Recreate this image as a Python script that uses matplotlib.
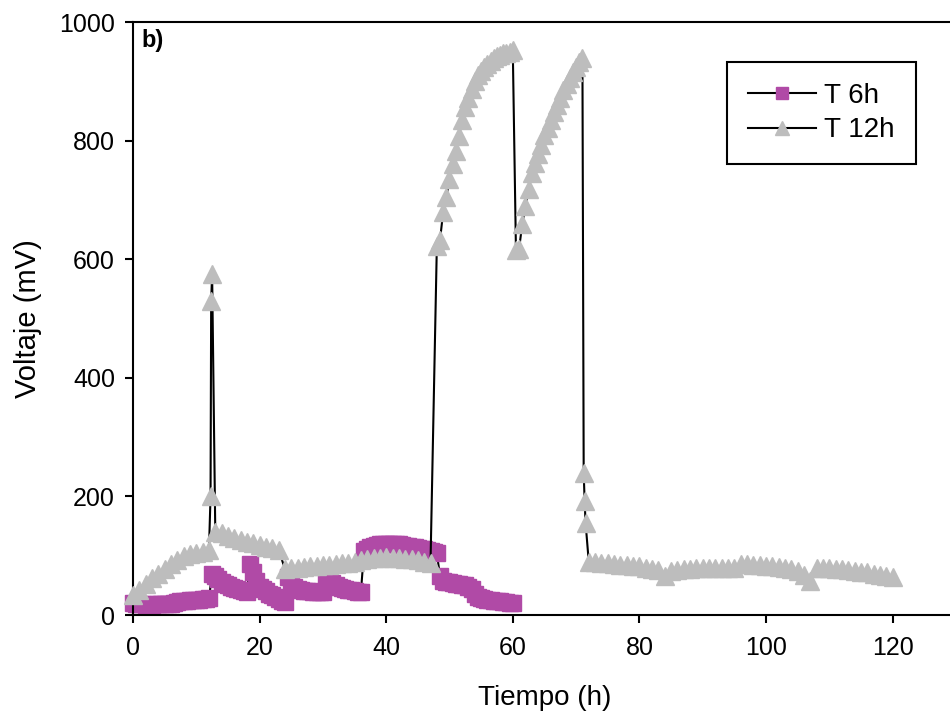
import numpy as np
import matplotlib
matplotlib.use("Agg")
import matplotlib.pyplot as plt

plt.rcParams['font.family'] = ['Liberation Sans', 'DejaVu Sans']

# T 6h: sampled every 30 min, 0-60 h
t6 = np.arange(0, 60.5, 0.5)
v6 = [20, 19, 18, 18, 17, 17, 17, 18, 18, 18, 18, 19, 19, 20, 22, 23, 24, 24, 25, 25, 26, 26, 27, 27, 28,
      70, 66, 60, 56, 52, 50, 48, 46, 44, 42, 40, 38,
      86, 72, 58, 48, 44, 40, 36, 33, 30, 27, 24, 22,
      64, 56, 48, 44, 42, 41, 40, 40, 39, 39, 38, 38,
      60, 57, 54, 50, 48, 46, 44, 43, 42, 40, 39, 38,
      108, 112, 115, 117, 118, 119, 120, 120, 120, 120, 119, 119,
      118, 117, 116, 115, 114, 113, 112, 111, 110, 108, 106, 104,
      66, 58, 56, 55, 54, 53, 52, 51, 50, 48, 44, 36,
      30, 28, 27, 26, 25, 24, 23, 23, 22, 22, 21, 20]

# T 12h, read segment by segment
t12_a = np.arange(0, 12.5, 1.0)
v12_a = [33, 42, 52, 62, 70, 78, 86, 93, 99, 103, 105, 107, 110]
t12_spike = [12.25, 12.35, 12.5]
v12_spike = [200, 530, 575]
t12_b = np.arange(13, 47.5, 1.0)
v12_b = [140, 138, 134, 130, 127, 124, 121, 118, 115, 113, 110,
         78, 79, 80, 81, 82, 83, 84, 85, 86, 87, 88, 89, 92,
         94, 96, 97, 98, 97, 96, 95, 94, 92, 90, 88]
t12_c = np.arange(48, 71.25, 0.5)
v12_c = [622, 632, 680, 705, 735, 760, 782, 808, 835, 856, 872, 887, 900,
         910, 918, 924, 930, 935, 939, 942, 945, 947, 948, 950, 952,
         615, 618, 660, 690, 718, 745, 762, 778, 792, 810, 822, 835,
         848, 860, 872, 885, 896, 906, 915, 924, 932, 940]
t12_drop = [71.2, 71.35, 71.5]
v12_drop = [240, 192, 155]
t12_d = np.arange(72, 120.5, 1.0)
v12_d = [90, 89, 88, 87, 86, 85, 84, 83, 82, 80, 78, 76, 65, 74, 76, 77, 78,
         79, 80, 80, 80, 80, 80, 80, 86, 86, 85, 84, 83, 82, 81, 80, 78, 75,
         68, 58, 80, 80, 79, 78, 77, 76, 75, 73, 72, 70, 68, 66, 64]

t12 = np.concatenate([t12_a, t12_spike, t12_b, t12_c, t12_drop, t12_d])
v12 = np.concatenate([v12_a, v12_spike, v12_b, v12_c, v12_drop, v12_d])

fig = plt.figure(figsize=(9.5, 7.13), dpi=100)
ax = fig.add_axes([0.14, 0.1374, 0.8662, 0.8317])

ax.plot(t6, v6, color='black', lw=1.5, marker='s', ms=11, mfc='#B04AA6', mec='#B04AA6',
        label='T 6h', clip_on=False, zorder=2)
ax.plot(t12, v12, color='black', lw=1.5, marker='^', ms=13, mfc='#BDBDBD', mec='#BDBDBD',
        label='T 12h', clip_on=False, zorder=3)

ax.set_xlim(0, 130)
ax.set_ylim(0, 1000)
ax.set_xticks(range(0, 121, 20))
ax.set_yticks(range(0, 1001, 200))
ax.tick_params(direction='out', length=6, width=1.5, labelsize=18, pad=7)
ax.tick_params(axis='x', pad=9)
for s in ax.spines.values():
    s.set_linewidth(1.5)

ax.set_xlabel('Tiempo (h)', fontsize=20, labelpad=18)
ax.set_ylabel('Voltaje (mV)', fontsize=21, labelpad=12)
ax.text(0.01, 0.988, 'b)', transform=ax.transAxes, fontsize=17, fontweight='bold',
        va='top', ha='left')

leg = ax.legend(loc='upper left', bbox_to_anchor=(0.722, 0.9325), borderaxespad=0,
                fontsize=20, fancybox=False, edgecolor='black', framealpha=1,
                handlelength=2.45, handletextpad=0.3, markerscale=0.8,
                borderpad=0.75, labelspacing=0.3)
leg.get_frame().set_linewidth(1.5)

fig.savefig('out.png', dpi=100)
